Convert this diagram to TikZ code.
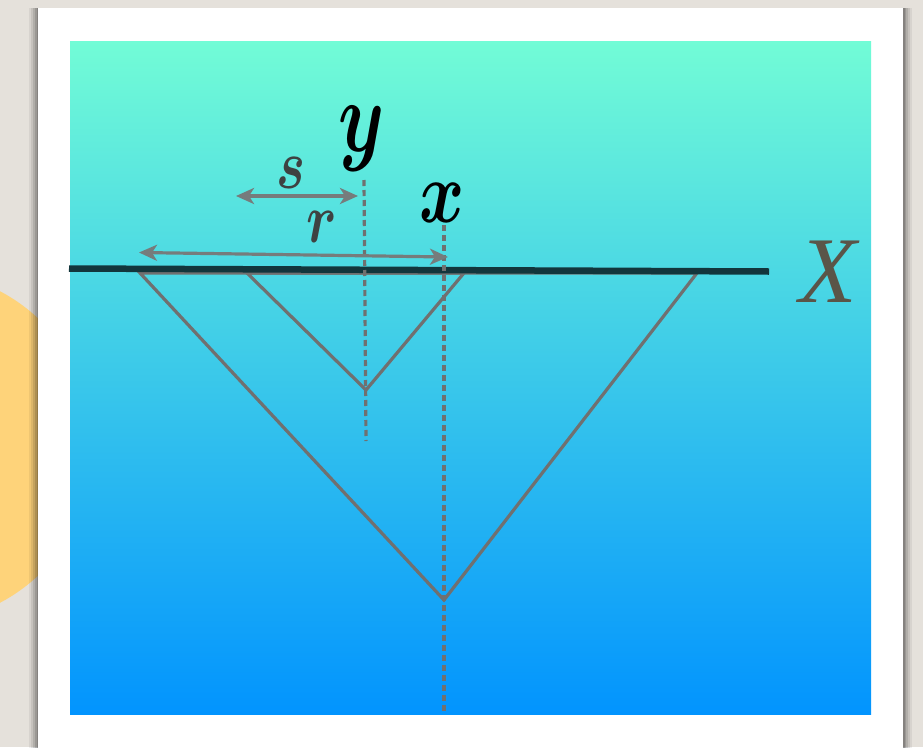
\RequirePackage{fix-cm}
\documentclass[tikz,border=0pt]{standalone}
\usepackage{fontspec}
\usepackage{bm}
\usepackage{graphicx}
\newfontfamily\timesfont{Liberation Serif}
\usetikzlibrary{arrows.meta}
\definecolor{paper}{RGB}{229,225,219}
\definecolor{sunny}{RGB}{254,211,122}
\definecolor{gradtop}{RGB}{114,252,214}
\definecolor{gradbot}{RGB}{2,148,254}
\definecolor{axisdark}{RGB}{18,54,60}
\definecolor{trigrey}{RGB}{112,112,112}
\definecolor{arrgrey}{RGB}{118,124,124}
\definecolor{Xbrown}{RGB}{90,85,72}
\definecolor{letgrey}{RGB}{62,66,66}
\tikzset{
  triline/.style={draw=trigrey, line width=3.2pt, line join=miter},
  dashline/.style={draw=trigrey, line width=3.2pt, dash pattern=on 6pt off 4pt},
  dimarrow/.style={draw=arrgrey, line width=3.2pt, {Stealth[length=18pt,width=16pt,inset=5pt]}-{Stealth[length=18pt,width=16pt,inset=5pt]}},
  lbl/.style={inner sep=0pt, anchor=base}
}
\begin{document}
\begin{tikzpicture}[x=1pt,y=-1pt]
\useasboundingbox (0,0) rectangle (923,747);
% paper background
\fill[paper] (0,0) rectangle (923,747);
% yellow circle behind card
\fill[sunny] (-82,447) circle[radius=176];
% card shadow
\foreach \d/\o in {9/0.06,7/0.08,5/0.10,3/0.12,1.5/0.14}{
  \fill[black,opacity=\o] (38-\d,8) rectangle (903+\d,760);
}
% card
\fill[white] (38,8) rectangle (903,760);
% gradient panel
\shade[top color=gradtop, bottom color=gradbot] (70,41) rectangle (871,714);
% triangle vertices
\coordinate (bigL) at (140,273);
\coordinate (bigR) at (697,273);
\coordinate (bigB) at (444,600);
\coordinate (smL) at (247,273);
\coordinate (smR) at (464,273);
\coordinate (smB) at (366,390);
\path[triline] (bigL) -- (bigB) -- (bigR) -- cycle;
\path[triline] (smL) -- (smB) -- (smR) -- cycle;
% axis
\coordinate (axL) at (69,268.5);
\coordinate (axR) at (769,271.5);
\draw[axisdark, line width=6.5pt] (axL) -- (axR);
% dashed verticals
\coordinate (ytop) at (364,180);
\coordinate (ybot) at (366,441);
\coordinate (xtop) at (444,225);
\coordinate (xbot) at (444,711);
\path[dashline] (ytop) -- (ybot);
\path[dashline] (xtop) -- (xbot);
% dimension arrows
\coordinate (sL) at (236,196);
\coordinate (sR) at (358,196);
\coordinate (rL) at (139,252.5);
\coordinate (rR) at (448,257);
\path[dimarrow] (sL) -- (sR);
\path[dimarrow] (rL) -- (rR);
% labels
\node[lbl, text=black] (ylab) at (362,151) {\scalebox{0.72}[1]{\fontsize{102}{102}\selectfont$\bm{y}$}};
\node[lbl, text=black] (xlab) at (442,222) {\scalebox{0.78}[1]{\fontsize{88}{88}\selectfont$\bm{x}$}};
\node[lbl, text=letgrey] (slab) at (291,188) {\scalebox{0.78}[1]{\fontsize{70}{70}\selectfont$\bm{s}$}};
\node[lbl, text=letgrey] (rlab) at (322,242) {\scalebox{0.78}[1]{\fontsize{70}{70}\selectfont$\bm{r}$}};
\node[lbl, text=Xbrown] (Xlab) at (828,302) {\fontsize{94}{94}\selectfont\timesfont\itshape X};
\end{tikzpicture}
\end{document}
